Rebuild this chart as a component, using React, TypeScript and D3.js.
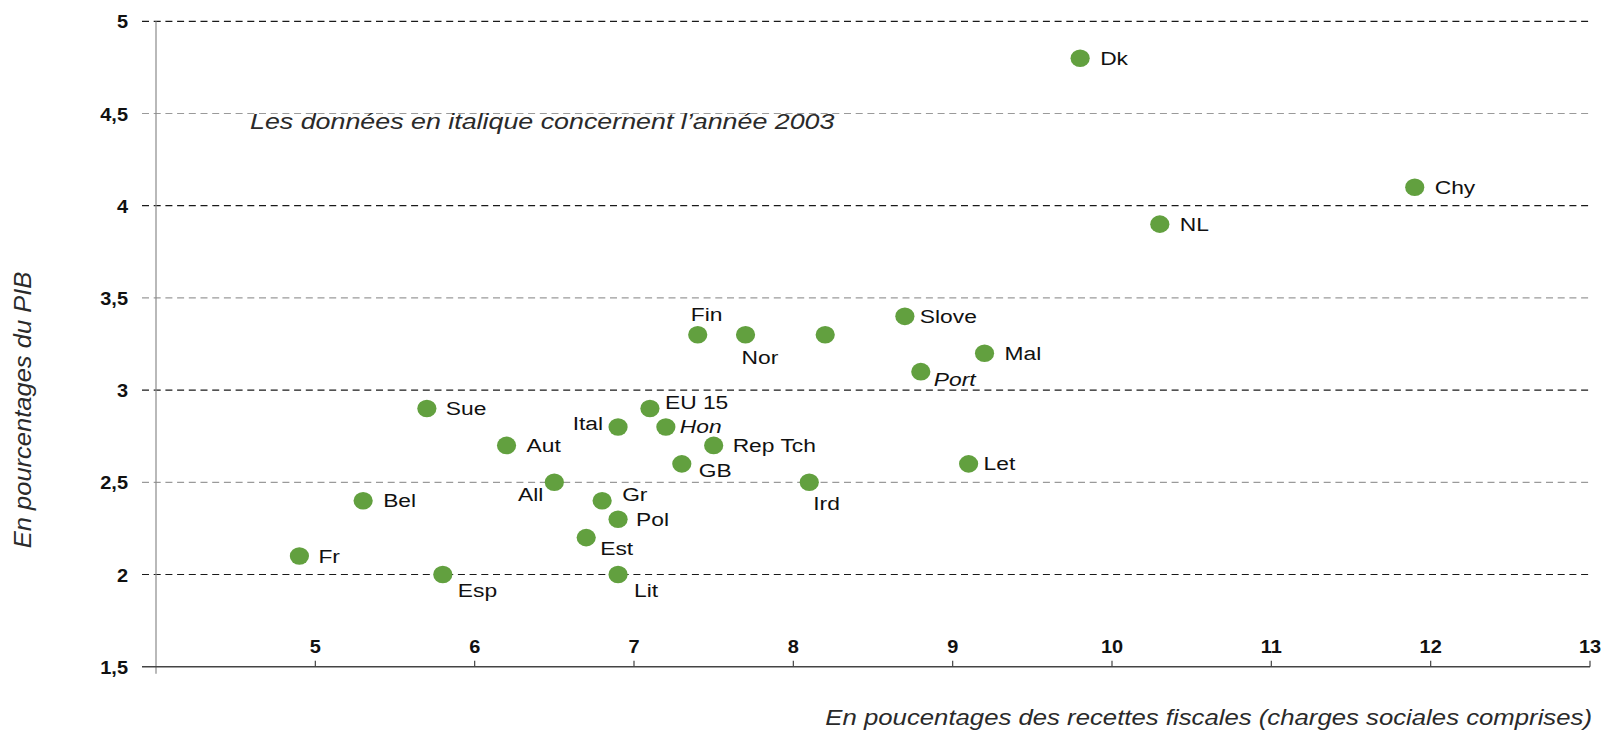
import React from "react";
import * as d3 from "d3";

const countries = ["Dk", "Chy", "NL", "Slove", "Mal", "Port", "Fin", "Nor", "", "EU 15", "Hon", "Ital", "Sue", "Aut", "Rep Tch", "GB", "Let", "All", "Ird", "Gr", "Bel", "Pol", "Est", "Fr", "Esp", "Lit"];
const taxShare = [9.8, 11.9, 10.3, 8.7, 9.2, 8.8, 7.4, 7.7, 8.2, 7.1, 7.2, 6.9, 5.7, 6.2, 7.5, 7.3, 9.1, 6.5, 8.1, 6.8, 5.3, 6.9, 6.7, 4.9, 5.8, 6.9];
const gdpShare = [4.8, 4.1, 3.9, 3.4, 3.2, 3.1, 3.3, 3.3, 3.3, 2.9, 2.8, 2.8, 2.9, 2.7, 2.7, 2.6, 2.6, 2.5, 2.5, 2.4, 2.4, 2.3, 2.2, 2.1, 2.0, 2.0];
const italicData = ["Port", "Hon"];

const xTicks = [5, 6, 7, 8, 9, 10, 11, 12, 13];
const yTicks = [1.5, 2, 2.5, 3, 3.5, 4, 4.5, 5];

const yTitle = "En pourcentages du PIB";
const xTitle = "En poucentages des recettes fiscales (charges sociales comprises)";
const note = "Les données en italique concernent l\u2019année 2003";

// label placement (screen offsets relative to the dot)
const placement: Record<string, [number, number, string]> = {
  Dk: [20, 6.5, "start"],
  Chy: [20, 6.5, "start"],
  NL: [20, 6.5, "start"],
  Slove: [15, 6.5, "start"],
  Mal: [20, 6.5, "start"],
  Port: [13, 14, "start"],
  Let: [15, 6.5, "start"],
  Fin: [-7, -14, "start"],
  Nor: [-4, 29, "start"],
  "EU 15": [15, 0, "start"],
  Hon: [14, 6.5, "start"],
  Ital: [-15, 3, "end"],
  Sue: [19, 6.5, "start"],
  Aut: [20, 6.5, "start"],
  "Rep Tch": [19, 6.5, "start"],
  GB: [17, 13, "start"],
  All: [-11, 19, "end"],
  Ird: [4, 28, "start"],
  Gr: [20, 0, "start"],
  Pol: [18, 6.5, "start"],
  Est: [14, 17, "start"],
  Bel: [20, 6.5, "start"],
  Fr: [19, 7, "start"],
  Esp: [15, 22, "start"],
  Lit: [16, 22, "start"],
};

const W = 1605;
const H = 733;
const FONT = "'Liberation Sans', Arial, Helvetica, sans-serif";

export default function App() {
  const x = d3.scaleLinear().domain([4, 13]).range([156, 1590]);
  const y = d3.scaleLinear().domain([1.5, 5]).range([666.7, 21.3]);
  const gridLeft = 142;
  const gridRight = 1591;

  const points = countries.map((c, i) => ({ c, x: taxShare[i], y: gdpShare[i], italic: italicData.includes(c) }));

  return (
    <svg width={W} height={H} style={{ position: "absolute", left: 0, top: 0, background: "#fff" }} fontFamily={FONT}>
      {/* gridlines */}
      {yTicks.filter((t) => t > 1.5).map((t) => (
        <line
          key={"g" + t}
          x1={gridLeft}
          x2={gridRight}
          y1={y(t)}
          y2={y(t)}
          stroke={Number.isInteger(t) ? "#1a1a1a" : "#9a9a9a"}
          strokeWidth={1.2}
          strokeDasharray="7,4.7"
        />
      ))}
      {/* y axis */}
      <line x1={x(4)} x2={x(4)} y1={y(5)} y2={y(1.5) + 7} stroke="#8a8a8a" strokeWidth={1.2} />
      {/* x axis */}
      <line x1={gridLeft} x2={x(13)} y1={y(1.5)} y2={y(1.5)} stroke="#444" strokeWidth={1.4} />
      {xTicks.map((t) => (
        <line key={"xt" + t} x1={x(t)} x2={x(t)} y1={y(1.5)} y2={y(1.5) - 6} stroke="#444" strokeWidth={1.2} />
      ))}
      {/* x tick labels */}
      {xTicks.map((t) => (
        <text
          key={"xl" + t}
          transform={`translate(${x(t)},${653}) scale(1.05,1)`}
          textAnchor="middle"
          fontSize={19}
          fontWeight="bold"
          fill="#111"
        >
          {String(t)}
        </text>
      ))}
      {/* y tick labels */}
      {yTicks.map((t) => (
        <text
          key={"yl" + t}
          transform={`translate(${128},${y(t) + 7}) scale(1.05,1)`}
          textAnchor="end"
          fontSize={19}
          fontWeight="bold"
          fill="#111"
        >
          {String(t).replace(".", ",")}
        </text>
      ))}
      {/* note */}
      <text transform={`translate(250,129) scale(1.22,1)`} fontSize={22} fontStyle="italic" fill="#2a2a2a">
        {note}
      </text>
      {/* axis titles */}
      <text transform={`translate(1592,725) scale(1.17,1)`} textAnchor="end" fontSize={22} fontStyle="italic" fill="#2a2a2a">
        {xTitle}
      </text>
      <text transform={`translate(31,410) rotate(-90) scale(1.16,1.1)`} textAnchor="middle" fontSize={22} fontStyle="italic" fill="#2a2a2a">
        {yTitle}
      </text>
      {/* points */}
      {points.map((p, i) => (
        <ellipse key={"p" + i} cx={x(p.x)} cy={y(p.y)} rx={9.6} ry={8.8} fill="#62a03f" />
      ))}
      {/* labels */}
      {points
        .filter((p) => p.c !== "")
        .map((p, i) => {
          const [dx, dy, anchor] = placement[p.c] || [18, 6.5, "start"];
          return (
            <text
              key={"t" + i}
              transform={`translate(${x(p.x) + dx},${y(p.y) + dy}) scale(1.2,1)`}
              textAnchor={anchor}
              fontSize={19}
              fontStyle={p.italic ? "italic" : "normal"}
              fill="#111"
            >
              {p.c}
            </text>
          );
        })}
    </svg>
  );
}
